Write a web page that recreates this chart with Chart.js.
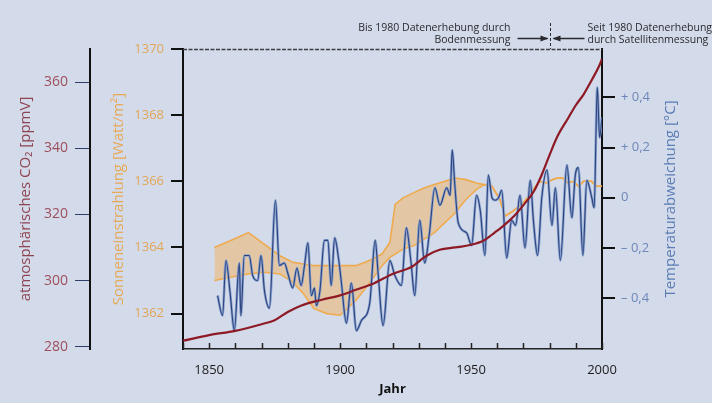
<!DOCTYPE html>
<html><head><meta charset="utf-8">
<script src="https://cdn.jsdelivr.net/npm/chart.js@4"></script>
<style>
html,body{margin:0;padding:0;background:#d3daea;}
canvas{display:block}
</style></head><body>
<canvas id="c" width="712" height="403"></canvas>
<script>
// ---- data ----
const co2Years  = [1840, 1850, 1860, 1870, 1875, 1880, 1885, 1893, 1900, 1906, 1913, 1920, 1927, 1933, 1938, 1944, 1950, 1955, 1959, 1963, 1967, 1970, 1974, 1977, 1980, 1983, 1987, 1990, 1993, 1996, 1999, 2000];
const co2Values = [281.8, 283.5, 284.8, 286.8, 288.0, 290.5, 292.4, 294.2, 295.5, 297.2, 299.2, 302.0, 304.0, 307.5, 309.3, 310.0, 310.8, 312.2, 314.5, 317.0, 320.0, 322.8, 327.0, 332.0, 338.0, 343.6, 349.0, 353.0, 356.3, 360.5, 365.0, 367.0];

const solarYears = [1852, 1858, 1865, 1871, 1877, 1882, 1886, 1890, 1895, 1900, 1906, 1911, 1916, 1919, 1921, 1924, 1928, 1932, 1936, 1940, 1944, 1948, 1952, 1955, 1958, 1961, 1963, 1966, 1970, 1973, 1976, 1979, 1981, 1983, 1985, 1987, 1989, 1991, 1993, 1996, 1998, 2000];
const solarUpper = [1364.0, 1364.2, 1364.45, 1364.1, 1363.75, 1363.55, 1363.5, 1363.45, 1363.45, 1363.45, 1363.45, 1363.6, 1363.8, 1364.15, 1365.3, 1365.5, 1365.65, 1365.8, 1365.9, 1366.0, 1366.1, 1366.05, 1365.95, 1365.9, 1365.85, 1365.45, 1364.95, 1365.1, 1365.35, 1365.65, 1366.0, 1365.95, 1366.05, 1366.1, 1366.1, 1365.95, 1366.0, 1365.85, 1366.0, 1366.0, 1365.85, 1365.85];
const solarLower = [1363.0, 1363.1, 1363.2, 1363.25, 1363.2, 1362.95, 1362.6, 1362.15, 1362.0, 1361.95, 1362.4, 1362.9, 1363.45, 1363.7, 1363.8, 1363.95, 1364.05, 1364.25, 1364.45, 1364.75, 1365.05, 1365.45, 1365.75, 1365.9, 1365.85, 1365.45, 1364.95, 1365.1, 1365.35, 1365.65, 1366.0, 1365.95, 1366.05, 1366.1, 1366.1, 1365.95, 1366.0, 1365.85, 1366.0, 1366.0, 1365.85, 1365.85];

const tempYears  = [1853.2, 1855.1, 1856.4, 1858.0, 1859.6, 1861.5, 1862.1, 1863.4, 1865.3, 1866.6, 1868.5, 1869.8, 1871.1, 1873.0, 1875.3, 1876.8, 1878.7, 1880.0, 1881.9, 1883.5, 1885.1, 1886.4, 1887.7, 1889.0, 1890.2, 1890.9, 1892.3, 1894.0, 1895.3, 1896.6, 1897.9, 1899.5, 1900.4, 1902.4, 1904.3, 1906.2, 1908.1, 1911.3, 1913.4, 1914.5, 1916.4, 1919.0, 1920.9, 1923.4, 1925.3, 1927.0, 1928.5, 1930.4, 1932.3, 1934.0, 1936.2, 1938.1, 1940.7, 1942.0, 1942.8, 1943.8, 1945.1, 1948.3, 1950.2, 1952.1, 1953.5, 1955.3, 1956.6, 1958.0, 1959.2, 1960.5, 1961.7, 1963.6, 1965.5, 1967.0, 1968.7, 1970.6, 1972.6, 1973.8, 1975.4, 1977.0, 1979.0, 1980.9, 1982.2, 1984.1, 1986.6, 1988.5, 1989.8, 1991.0, 1992.7, 1994.2, 1996.1, 1997.0, 1998.2, 1999.1, 2000.0];
const tempValues = [-0.39, -0.47, -0.25, -0.38, -0.53, -0.26, -0.47, -0.23, -0.23, -0.31, -0.33, -0.23, -0.37, -0.44, -0.01, -0.27, -0.26, -0.30, -0.36, -0.28, -0.35, -0.27, -0.18, -0.39, -0.36, -0.43, -0.37, -0.17, -0.17, -0.35, -0.16, -0.25, -0.33, -0.50, -0.34, -0.53, -0.49, -0.42, -0.17, -0.30, -0.51, -0.25, -0.31, -0.35, -0.12, -0.25, -0.39, -0.09, -0.26, -0.15, 0.04, -0.03, 0.04, 0.01, 0.19, 0.05, -0.10, -0.14, -0.19, 0.01, -0.05, -0.23, 0.09, 0.00, -0.01, 0.00, 0.03, -0.24, -0.09, -0.11, 0.01, -0.20, 0.07, -0.09, -0.23, 0.00, 0.11, -0.11, 0.04, -0.25, 0.13, -0.08, 0.09, 0.12, -0.23, 0.07, 0.00, -0.04, 0.44, 0.24, 0.32];

const co2Ticks = [280, 300, 320, 340, 360];
const solarTicks = [1362, 1364, 1366, 1368, 1370];
const tempTicks = [-0.4, -0.2, 0, 0.2, 0.4];
const tempTickLabels = ['\u2013 0,4', '\u2013 0,2', '0', '+ 0,2', '+ 0,4'];
const yearTicks = [1840, 1850, 1860, 1870, 1880, 1890, 1900, 1910, 1920, 1930, 1940, 1950, 1960, 1970, 1980, 1990, 2000];
const yearLabels = [1850, 1900, 1950, 2000];

const titles = {
  x: 'Jahr',
  co2: 'atmosphärisches CO\u2082 [ppmV]',
  solar: 'Sonneneinstrahlung [Watt/m\u00b2]',
  temp: 'Temperaturabweichung [\u00b0C]'
};
const noteLeft = ['Bis 1980 Datenerhebung durch', 'Bodenmessung'];
const noteRight = ['Seit 1980 Datenerhebung', 'durch Satellitenmessung'];
const splitYear = 1980;

// ---- helpers ----
const pts = (xs, ys) => xs.map((x, i) => ({x: x, y: ys[i]}));
const FONT = '"Open Sans", "DejaVu Sans", sans-serif';

const decor = {
  id: 'decor',
  afterDraw(chart) {
    const ctx = chart.ctx;
    const a = chart.chartArea;
    const xs = chart.scales.x;
    ctx.save();
    // top dashed frame line
    ctx.strokeStyle = '#3b3d45';
    ctx.lineWidth = 1.5;
    ctx.setLineDash([4, 1.5]);
    ctx.beginPath();
    ctx.moveTo(a.left, a.top + 0.5);
    ctx.lineTo(a.right, a.top + 0.5);
    ctx.stroke();
    ctx.setLineDash([]);
    // x tick marks pointing inwards
    ctx.strokeStyle = '#222';
    ctx.lineWidth = 1.5;
    yearTicks.forEach(v => {
      const px = Math.round(xs.getPixelForValue(v)) + 0.5;
      ctx.beginPath();
      ctx.moveTo(px, a.bottom);
      ctx.lineTo(px, a.bottom - 6);
      ctx.stroke();
    });
    // temperature title (reads bottom to top)
    ctx.fillStyle = '#5b7db5';
    ctx.font = '15px ' + FONT;
    ctx.textAlign = 'center';
    ctx.textBaseline = 'middle';
    ctx.translate(671, (a.top + a.bottom) / 2);
    ctx.rotate(-Math.PI / 2);
    ctx.fillText(titles.temp, 0, 0);
    ctx.restore();

    // annotation
    ctx.save();
    const sx = Math.round(xs.getPixelForValue(splitYear)) + 0.5;
    ctx.fillStyle = '#2a2a2e';
    ctx.font = '10.5px ' + FONT;
    ctx.textBaseline = 'middle';
    ctx.textAlign = 'right';
    ctx.fillText(noteLeft[0], sx - 40, 28);
    ctx.fillText(noteLeft[1], sx - 40, 40);
    ctx.textAlign = 'left';
    ctx.fillText(noteRight[0], sx + 37, 28);
    ctx.fillText(noteRight[1], sx + 37, 40);
    // vertical dashed split mark
    ctx.strokeStyle = '#2a2a2e';
    ctx.lineWidth = 1;
    ctx.setLineDash([3, 2]);
    ctx.beginPath();
    ctx.moveTo(sx, 23);
    ctx.lineTo(sx, a.top);
    ctx.stroke();
    ctx.setLineDash([]);
    // arrows
    const ay = 38.5;
    ctx.lineWidth = 1.3;
    ctx.beginPath();
    ctx.moveTo(sx - 33, ay); ctx.lineTo(sx - 3, ay);
    ctx.moveTo(sx + 34, ay); ctx.lineTo(sx + 3, ay);
    ctx.stroke();
    ctx.fillStyle = '#2a2a2e';
    ctx.beginPath();
    ctx.moveTo(sx - 2, ay); ctx.lineTo(sx - 10, ay - 3); ctx.lineTo(sx - 10, ay + 3); ctx.closePath();
    ctx.moveTo(sx + 2, ay); ctx.lineTo(sx + 10, ay - 3); ctx.lineTo(sx + 10, ay + 3); ctx.closePath();
    ctx.fill();
    ctx.restore();
  }
};

new Chart(document.getElementById('c'), {
  type: 'line',
  data: {
    datasets: [
      { label: 'CO2', data: pts(co2Years, co2Values), yAxisID: 'yCO2',
        borderColor: '#8e1a26', borderWidth: 2.2, pointRadius: 0, fill: false,
        cubicInterpolationMode: 'monotone', order: 0 },
      { label: 'Temp dark', data: pts(tempYears, tempValues), yAxisID: 'yTemp',
        borderColor: '#2d4179', borderWidth: 1.1, pointRadius: 0, fill: false,
        cubicInterpolationMode: 'monotone', order: 1 },
      { label: 'Temp light', data: pts(tempYears, tempValues), yAxisID: 'yTemp',
        borderColor: '#86a1d0', borderWidth: 2.6, pointRadius: 0, fill: false,
        cubicInterpolationMode: 'monotone', order: 2 },
      { label: 'Solar lower', data: pts(solarYears, solarLower), yAxisID: 'ySolar',
        borderColor: '#eeaa4c', borderWidth: 1.6, pointRadius: 0, fill: false,
        tension: 0, order: 4 },
      { label: 'Solar upper', data: pts(solarYears, solarUpper), yAxisID: 'ySolar',
        borderColor: '#eeaa4c', borderWidth: 1.6, pointRadius: 0,
        fill: '-1', backgroundColor: 'rgba(244,176,88,0.48)',
        tension: 0, order: 3 }
    ]
  },
  options: {
    responsive: false,
    animation: false,
    devicePixelRatio: 1,
    layout: { padding: { top: 49, left: 0, right: 0, bottom: 0 } },
    plugins: { legend: { display: false }, tooltip: { enabled: false } },
    scales: {
      x: {
        type: 'linear', position: 'bottom', min: 1840, max: 2000,
        afterFit: s => { s.height = 54; },
        afterBuildTicks: s => { s.ticks = yearTicks.map(v => ({value: v})); },
        border: { color: '#222', width: 1.5 },
        grid: { display: false, drawTicks: false },
        ticks: { autoSkip: false, maxRotation: 0, padding: 13, color: '#1c1c1c',
          font: { family: FONT, size: 13 },
          callback: v => yearLabels.includes(v) ? String(v) : '' },
        title: { display: true, text: titles.x, color: '#111',
          font: { family: FONT, size: 13, weight: 'bold' }, padding: { top: 0, bottom: 6 } }
      },
      yCO2: {
        type: 'linear', position: 'left', weight: 2, min: 279.3, max: 370,
        afterFit: s => { s.width = 90; },
        afterBuildTicks: s => { s.ticks = co2Ticks.map(v => ({value: v})); },
        border: { color: '#111', width: 2 },
        grid: { drawOnChartArea: false, drawTicks: true, tickLength: 15, color: '#2c3d66', lineWidth: 1 },
        ticks: { color: '#9e4f5b', padding: 7, font: { family: FONT, size: 14 },
          callback: v => String(v) },
        title: { display: true, text: titles.co2, color: '#8f4452',
          font: { family: FONT, size: 15 }, padding: { top: 17, bottom: 0 } }
      },
      ySolar: {
        type: 'linear', position: 'left', weight: 1, min: 1360.93, max: 1370,
        afterFit: s => { s.width = 93; },
        afterBuildTicks: s => { s.ticks = solarTicks.map(v => ({value: v})); },
        border: { color: '#111', width: 2 },
        grid: { drawOnChartArea: false, drawTicks: true, tickLength: 12, color: '#111', lineWidth: 2 },
        ticks: { color: '#e2a658', padding: 7, font: { family: FONT, size: 13 },
          callback: v => String(v) },
        title: { display: true, text: titles.solar, color: '#e8a955',
          font: { family: FONT, size: 15 }, padding: { top: 20, bottom: 0 } }
      },
      yTemp: {
        type: 'linear', position: 'right', min: -0.603, max: 0.593,
        afterFit: s => { s.width = 110; },
        afterBuildTicks: s => { s.ticks = tempTicks.map(v => ({value: v})); },
        border: { color: '#111', width: 2 },
        grid: { drawOnChartArea: false, drawTicks: true, tickLength: 13, color: '#111', lineWidth: 2 },
        ticks: { color: '#6d88b8', padding: 6, font: { family: FONT, size: 13 },
          callback: v => tempTickLabels[tempTicks.indexOf(v)] }
      }
    }
  },
  plugins: [decor]
});
</script>
</body></html>
